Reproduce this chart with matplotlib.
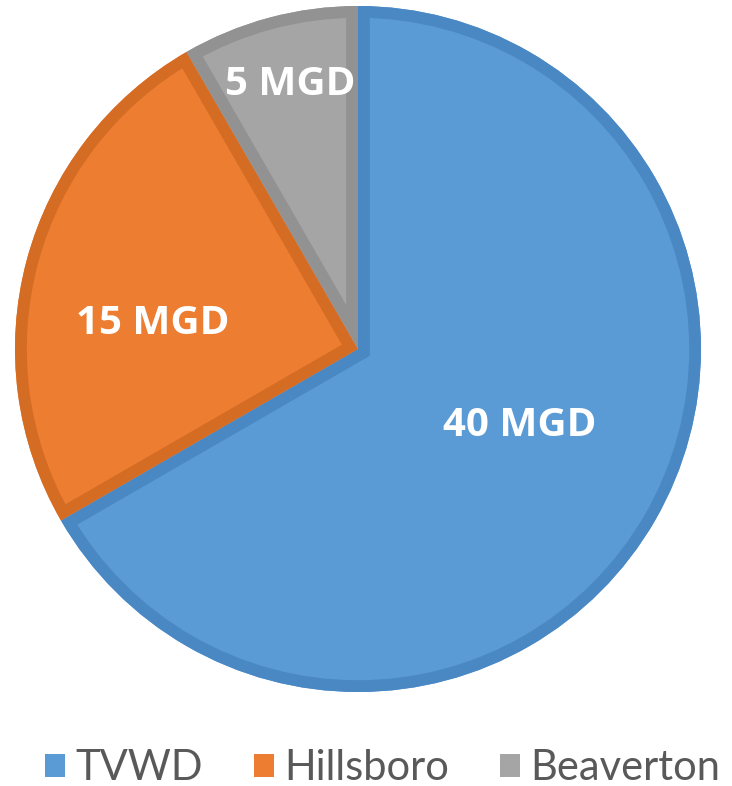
import numpy as np
import matplotlib.pyplot as plt
from matplotlib.patches import Patch, Wedge

# ── Data ──────────────────────────────────────────────────────────────────────
names  = ['TVWD', 'Hillsboro', 'Beaverton']
values = [40, 15, 5]
labels = ['40 MGD', '15 MGD', '5 MGD']

fills  = ['#5B9BD5', '#ED7D31', '#A5A5A5']
edges  = ['#4A88C4', '#D56C24', '#929292']

# label placement (distance from centre, angle offset in deg) per slice
label_r      = [0.521, 0.603, 0.795]
label_dtheta = [4.8, 7.8, -0.6]

# ── Figure ────────────────────────────────────────────────────────────────────
W, H = 732, 786
fig = plt.figure(figsize=(W / 100, H / 100), dpi=100)
ax = fig.add_axes([0, 0, 1, 1])

cx, cy, R = 358, 349, 343   # pie centre / radius in pixels

wedges, _ = ax.pie(values, colors=fills, startangle=90, counterclock=False,
                   radius=1.0, center=(0, 0), frame=True,
                   wedgeprops=dict(linewidth=0, edgecolor='none'))
ax.set_xlim(-cx / R, (W - cx) / R)
ax.set_ylim(-(H - cy) / R, cy / R)
ax.set_aspect('auto')
ax.axis('off')

for w, ec, lab, r, dt in zip(wedges, edges, labels, label_r, label_dtheta):
    # inner border: a stroked copy clipped to the slice itself
    border = Wedge(w.center, w.r, w.theta1, w.theta2, facecolor='none',
                   edgecolor=ec, linewidth=17, zorder=w.get_zorder() + 0.1)
    ax.add_patch(border)
    border.set_clip_path(w)
    mid = np.deg2rad((w.theta1 + w.theta2) / 2 + dt)
    ax.text(r * np.cos(mid), r * np.sin(mid), lab, color='white',
            fontsize=29, fontweight='bold', family='Open Sans',
            ha='center', va='center', zorder=5)

handles = [Patch(facecolor=f, edgecolor='none', label=n) for f, n in zip(fills, names)]
fig.legend(handles=handles, loc='center', bbox_to_anchor=(0.523, 1 - 768 / H),
           ncol=3, frameon=False, handlelength=0.48,
           handleheight=0.48, handletextpad=0.25, columnspacing=1.22,
           labelcolor='#595959', prop=dict(family='Lato', size=30))

fig.savefig('out.png', dpi=100)
